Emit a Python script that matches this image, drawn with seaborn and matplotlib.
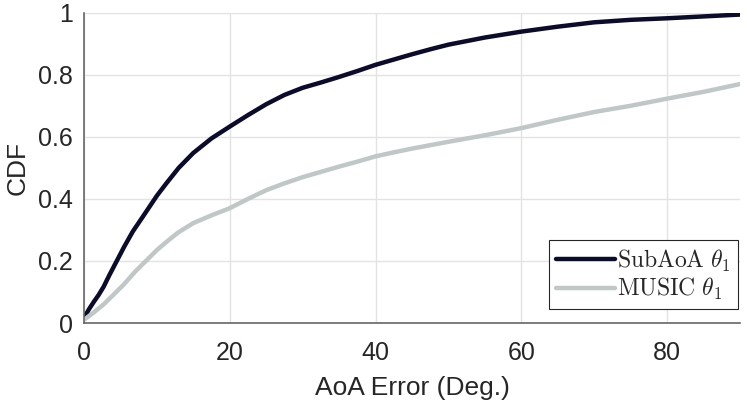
import numpy as np
import pandas as pd
import matplotlib
matplotlib.use("Agg")
import matplotlib.pyplot as plt
import seaborn as sns

# values
subaoa_x = [0, 0.7, 1.4, 2, 2.7, 3.5, 4.5, 5.5, 6.7, 8, 9, 10, 11.3, 13, 15, 17.5, 20, 22.5, 25, 27.5, 30,
            32.5, 35, 37.5, 40, 42.5, 45, 47.5, 50, 55, 60, 65, 70, 75, 80, 85, 90]
subaoa_y = [0.016, 0.045, 0.07, 0.09, 0.117, 0.155, 0.2, 0.245, 0.295, 0.34, 0.375, 0.41, 0.45, 0.5, 0.548,
            0.595, 0.633, 0.67, 0.705, 0.735, 0.758, 0.775, 0.793, 0.812, 0.832, 0.849, 0.866, 0.882, 0.897,
            0.92, 0.939, 0.955, 0.969, 0.977, 0.982, 0.988, 0.994]
music_x = [0, 1.4, 2.7, 4, 5.5, 7, 8.5, 10, 11.5, 13, 15, 17.5, 20, 22.5, 25, 27.5, 30, 32.5, 35, 37.5, 40,
           42.5, 45, 47.5, 50, 55, 60, 65, 70, 75, 80, 85, 90]
music_y = [0.01, 0.035, 0.06, 0.09, 0.125, 0.165, 0.2, 0.235, 0.265, 0.293, 0.322, 0.347, 0.37, 0.4, 0.428,
           0.45, 0.47, 0.487, 0.504, 0.52, 0.537, 0.55, 0.562, 0.573, 0.584, 0.605, 0.628, 0.655, 0.68, 0.70,
           0.723, 0.745, 0.770]
labels = [r'$\mathrm{SubAoA}\ \theta_1$', r'$\mathrm{MUSIC}\ \theta_1$']
colors = ['#0b0b2b', '#bfc8c7']

df = pd.concat([
    pd.DataFrame({'err': subaoa_x, 'cdf': subaoa_y, 'method': labels[0]}),
    pd.DataFrame({'err': music_x, 'cdf': music_y, 'method': labels[1]}),
])

sns.set_theme(style='whitegrid')
plt.rcParams['font.family'] = ['Liberation Sans', 'DejaVu Sans']
plt.rcParams['mathtext.fontset'] = 'cm'

fig = plt.figure(figsize=(7.47, 4.11), dpi=100)
ax = fig.add_axes([0.1124, 0.2141, 0.8782, 0.755])

sns.lineplot(data=df, x='err', y='cdf', hue='method', palette=colors, linewidth=3.2,
             estimator=None, sort=False, ax=ax)

ax.set_xlim(0, 90)
ax.set_ylim(0, 1)
ax.set_xticks([0, 20, 40, 60, 80])
ax.set_yticks([0, 0.2, 0.4, 0.6, 0.8, 1])
ax.set_yticklabels(['0', '0.2', '0.4', '0.6', '0.8', '1'])
ax.set_xlabel('AoA Error (Deg.)', fontsize=19, color='#262626', labelpad=8)
ax.set_ylabel('CDF', fontsize=19, color='#262626', labelpad=6)
ax.tick_params(axis='both', direction='in', length=6, width=1, color='#555555',
               labelsize=18, labelcolor='#262626')
ax.tick_params(axis='x', pad=13)
ax.tick_params(axis='y', pad=8)
ax.grid(True, color='#e3e3e3', linewidth=1)
ax.set_facecolor('white')
for s in ['top', 'right']:
    ax.spines[s].set_visible(False)
for s in ['left', 'bottom']:
    ax.spines[s].set_color('#666666')
    ax.spines[s].set_linewidth(1.2)

leg = ax.legend(loc='lower right', bbox_to_anchor=(0.997, 0.045), fontsize=17, frameon=True,
                fancybox=False, handlelength=2.5, handletextpad=0.1, borderpad=0.3,
                labelspacing=0.1, borderaxespad=0)
leg.get_frame().set_edgecolor('#262626')
leg.get_frame().set_linewidth(0.8)
leg.get_frame().set_alpha(1)
for line in leg.get_lines():
    line.set_linewidth(3.2)

fig.savefig('out.png', dpi=100)
